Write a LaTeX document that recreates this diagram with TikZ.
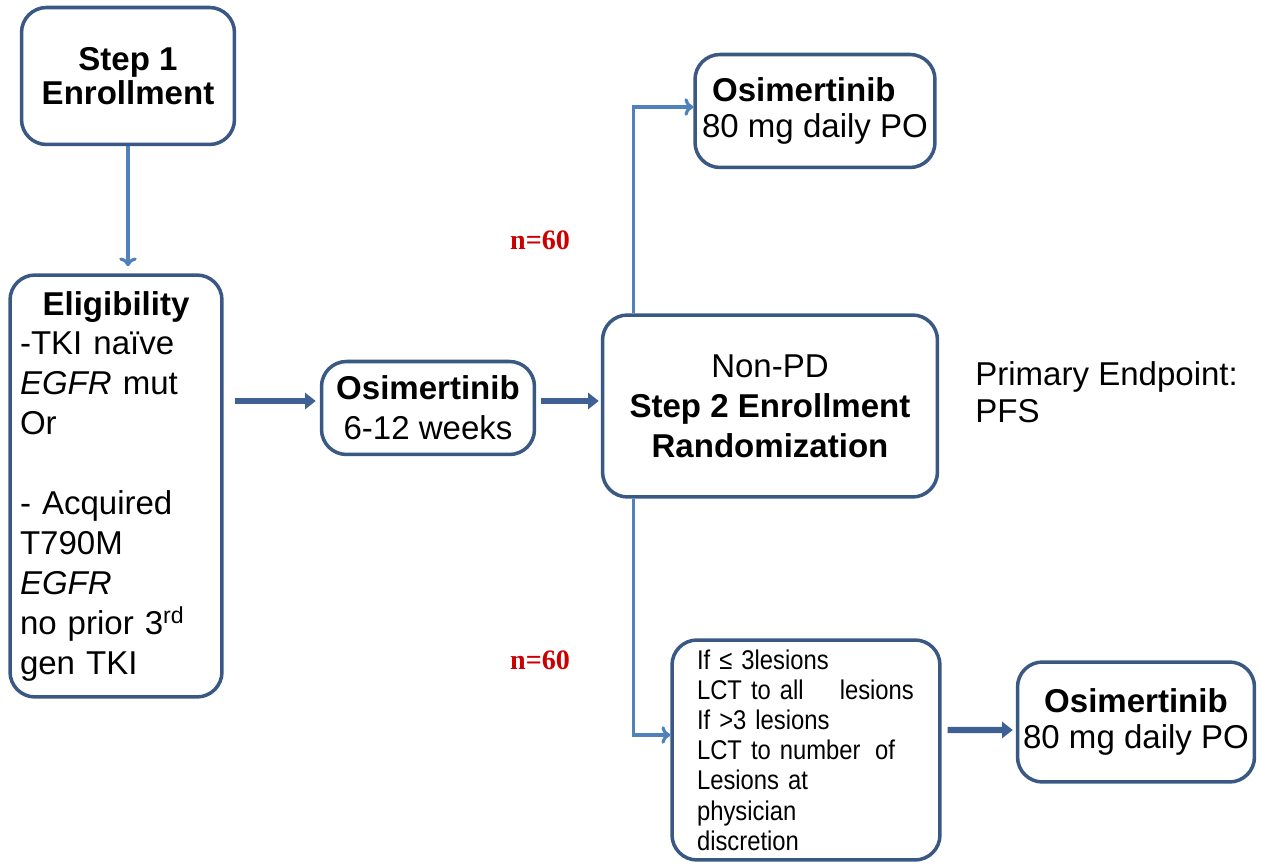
\documentclass[tikz,border=0pt]{standalone}
\usepackage{fontspec}
\setmainfont{Liberation Sans}
\newfontfamily\countfont{Liberation Serif}
\newfontfamily\narrowfont[FakeStretch=0.88]{Liberation Sans}
\usetikzlibrary{arrows,arrows.meta,shapes}
\definecolor{boxline}{RGB}{58,88,132}
\definecolor{thinblue}{RGB}{79,129,189}
\definecolor{thickblue}{RGB}{62,96,148}
\tikzstyle{block}=[draw=boxline,line width=2pt,rounded corners=0.5cm,fill=white,inner sep=0pt,font=\fontsize{18.8}{22.7}\selectfont]
\tikzstyle{small block}=[block,font=\narrowfont\fontsize{15.4}{17.2}\selectfont]
\tikzstyle{thin arrow}=[draw=thinblue,line width=1.8pt,-{To[length=5pt,width=10pt]}]
\tikzstyle{thick arrow}=[draw=thickblue,line width=3.6pt,-{Triangle[length=6pt,width=9pt]}]
\tikzstyle{count}=[text=red!80!black,font=\countfont\bfseries\fontsize{16}{18}\selectfont]

\begin{document}
\begin{tikzpicture}[x=0.02cm,y=-0.02cm]
    \useasboundingbox (0,0) rectangle (1261,864);
    % Left column: enrollment and eligibility
    \node[block,minimum width=4.26cm,minimum height=2.74cm,align=center,
          font=\bfseries\fontsize{18.8}{19.5}\selectfont] (step1) at (128,76)
        {Step 1\\Enrollment};
    \node[block,minimum width=4.24cm,minimum height=8.44cm,text width=3.84cm,align=left] (elig) at (116,486)
        {\makebox[\linewidth][c]{\bfseries Eligibility}\\
         -TKI naïve\\
         \textit{EGFR} mut\\
         Or\\[0.8cm]
         - Acquired\\
         T790M\\
         \textit{EGFR}\\
         no prior 3\textsuperscript{rd}\\
         gen TKI};

    % Run-in and randomization
    \node[block,minimum width=4.26cm,minimum height=1.86cm,align=center] (osiRun) at (428,408)
        {\textbf{Osimertinib}\\6-12 weeks};
    \node[block,minimum width=6.7cm,minimum height=3.64cm,align=center] (step2) at (770,406)
        {Non-PD\\\textbf{Step 2 Enrollment}\\\textbf{Randomization}};
    \node[align=left,anchor=west,inner sep=0pt,font=\fontsize{18.8}{21}\selectfont] (endpoint) at (975,392)
        {Primary Endpoint:\\PFS};

    % The two arms
    \node[block,minimum width=4.8cm,minimum height=2.26cm,align=left,
          font=\fontsize{18.8}{20.5}\selectfont] (osiTop) at (815,111)
        {\hspace{0.2cm}\textbf{Osimertinib}\\80 mg daily PO};
    \node[small block,minimum width=5.36cm,minimum height=4.4cm,text width=4.36cm,align=left] (lesions) at (806,750)
        {If ≤ 3lesions\\
         LCT to all\hspace{1em} lesions\\
         If >3 lesions\\
         LCT to number\hspace{0.2em} of\\
         Lesions at\\
         physician\\
         discretion};
    \node[block,minimum width=4.74cm,minimum height=2.4cm,align=center,
          font=\fontsize{18.8}{21}\selectfont] (osiBot) at (1136,722)
        {\textbf{Osimertinib}\\80 mg daily PO};

    \node[count] (nTop) at (540,240) {n=60};
    \node[count] (nBot) at (540,660) {n=60};

    % Connect boxes
    \path[thin arrow,shorten >=4pt] (step1.south) -- (step1.south |- elig.north);
    \path[thick arrow] ([xshift=0.22cm,yshift=0.14cm]elig.east |- osiRun.west) -- ([xshift=-0.08cm,yshift=0.14cm]osiRun.west);
    \path[thick arrow] ([xshift=0.1cm,yshift=0.14cm]osiRun.east) -- ([xshift=-0.04cm,yshift=0.14cm]step2.west |- osiRun.east);
    \path[thin arrow] ([xshift=0.66cm]step2.north west) |- ([yshift=0.08cm]osiTop.west);
    \path[thin arrow] ([xshift=0.66cm]step2.south west) |- ([yshift=0.3cm]lesions.west);
    \path[thick arrow] ([xshift=0.12cm,yshift=0.4cm]lesions.east) -- ([xshift=-0.06cm,yshift=-0.16cm]osiBot.west);
\end{tikzpicture}
\end{document}
